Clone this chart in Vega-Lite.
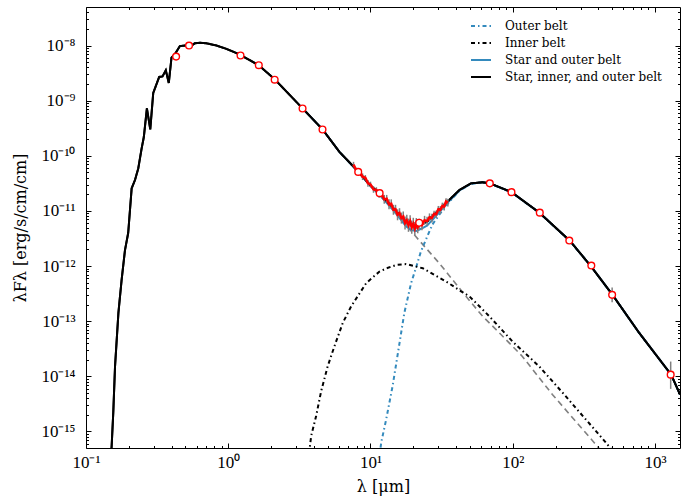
{
  "$schema": "https://vega.github.io/schema/vega-lite/v6.json",
  "width": 594,
  "height": 441,
  "autosize": {"type": "none"},
  "padding": {"left": 86, "top": 7, "right": 1, "bottom": 54},
  "background": "white",
  "config": {
    "view": {"stroke": "black", "strokeWidth": 1},
    "axis": {"labelColor": "black", "tickColor": "black", "titleColor": "black", "grid": false, "domain": false, "labelFont": "Liberation Serif", "labelFontSize": 17, "titleFont": "DejaVu Serif", "titleFontWeight": "normal", "titleFontSize": 16},
    "legend": {"orient": "none", "legendX": 384, "legendY": 8, "symbolType": "stroke", "symbolSize": 400, "symbolStrokeWidth": 2, "labelFont": "DejaVu Serif", "labelFontSize": 12, "labelLimit": 400, "labelColor": "black", "labelOffset": 13, "rowPadding": -2, "padding": 0}
  },
  "datasets": {
    "models": [
      {"s": "Outer belt", "x": 11.5, "y": 3.16e-16},
      {"s": "Outer belt", "x": 11.9, "y": 6.31e-16},
      {"s": "Outer belt", "x": 12.9, "y": 1.66e-15},
      {"s": "Outer belt", "x": 14.3, "y": 6.61e-15},
      {"s": "Outer belt", "x": 15.6, "y": 2.66e-14},
      {"s": "Outer belt", "x": 17.3, "y": 1.41e-13},
      {"s": "Outer belt", "x": 19.3, "y": 4.9e-13},
      {"s": "Outer belt", "x": 20.9, "y": 9.33e-13},
      {"s": "Outer belt", "x": 22.6, "y": 1.82e-12},
      {"s": "Outer belt", "x": 25, "y": 3.39e-12},
      {"s": "Outer belt", "x": 27.3, "y": 5.7e-12},
      {"s": "Outer belt", "x": 30.5, "y": 8.6e-12},
      {"s": "Outer belt", "x": 35.8, "y": 1.46e-11},
      {"s": "Outer belt", "x": 42.2, "y": 2.32e-11},
      {"s": "Outer belt", "x": 50.9, "y": 3.11e-11},
      {"s": "Outer belt", "x": 61.4, "y": 3.28e-11},
      {"s": "Outer belt", "x": 69.2, "y": 3.13e-11},
      {"s": "Outer belt", "x": 98.1, "y": 2.17e-11},
      {"s": "Outer belt", "x": 153.6, "y": 9.25e-12},
      {"s": "Outer belt", "x": 252, "y": 2.86e-12},
      {"s": "Outer belt", "x": 354, "y": 9.95e-13},
      {"s": "Outer belt", "x": 502, "y": 3.0e-13},
      {"s": "Outer belt", "x": 773, "y": 6.15e-14},
      {"s": "Outer belt", "x": 1300, "y": 1.07e-14},
      {"s": "Outer belt", "x": 1500, "y": 4.66e-15},
      {"s": "Inner belt", "x": 3.7, "y": 3.98e-16},
      {"s": "Inner belt", "x": 3.83, "y": 8.32e-16},
      {"s": "Inner belt", "x": 4.15, "y": 1.905e-15},
      {"s": "Inner belt", "x": 4.5, "y": 5.37e-15},
      {"s": "Inner belt", "x": 5.0, "y": 1.51e-14},
      {"s": "Inner belt", "x": 5.58, "y": 3.51e-14},
      {"s": "Inner belt", "x": 6.39, "y": 9.33e-14},
      {"s": "Inner belt", "x": 7.32, "y": 1.86e-13},
      {"s": "Inner belt", "x": 9.33, "y": 4.9e-13},
      {"s": "Inner belt", "x": 11.57, "y": 7.94e-13},
      {"s": "Inner belt", "x": 13.3, "y": 9.33e-13},
      {"s": "Inner belt", "x": 15.2, "y": 1.047e-12},
      {"s": "Inner belt", "x": 17.8, "y": 1.084e-12},
      {"s": "Inner belt", "x": 23.3, "y": 9.12e-13},
      {"s": "Inner belt", "x": 34.0, "y": 5.25e-13},
      {"s": "Inner belt", "x": 43.4, "y": 3.47e-13},
      {"s": "Inner belt", "x": 49.6, "y": 2.82e-13},
      {"s": "Inner belt", "x": 68.4, "y": 1.23e-13},
      {"s": "Inner belt", "x": 99.8, "y": 4.27e-14},
      {"s": "Inner belt", "x": 153.6, "y": 1.51e-14},
      {"s": "Inner belt", "x": 230, "y": 4.68e-15},
      {"s": "Inner belt", "x": 451, "y": 6.31e-16},
      {"s": "Inner belt", "x": 520, "y": 3.98e-16},
      {"s": "Star and outer belt", "x": 3.33, "y": 7.24e-10},
      {"s": "Star and outer belt", "x": 4.6, "y": 3.02e-10},
      {"s": "Star and outer belt", "x": 6.05, "y": 1.175e-10},
      {"s": "Star and outer belt", "x": 8.24, "y": 5.01e-11},
      {"s": "Star and outer belt", "x": 10.0, "y": 2.82e-11},
      {"s": "Star and outer belt", "x": 11.57, "y": 1.95e-11},
      {"s": "Star and outer belt", "x": 14.5, "y": 1.023e-11},
      {"s": "Star and outer belt", "x": 17.8, "y": 5.25e-12},
      {"s": "Star and outer belt", "x": 19.5, "y": 4.47e-12},
      {"s": "Star and outer belt", "x": 20.9, "y": 4.32e-12},
      {"s": "Star and outer belt", "x": 22.1, "y": 4.57e-12},
      {"s": "Star and outer belt", "x": 25, "y": 5.4e-12},
      {"s": "Star and outer belt", "x": 27.3, "y": 6.92e-12},
      {"s": "Star and outer belt", "x": 30.5, "y": 9.55e-12},
      {"s": "Star and outer belt", "x": 35.8, "y": 1.51e-11},
      {"s": "Star and outer belt", "x": 42.2, "y": 2.34e-11},
      {"s": "Star and outer belt", "x": 50.9, "y": 3.14e-11},
      {"s": "Star and outer belt", "x": 61.4, "y": 3.3e-11},
      {"s": "Star and outer belt", "x": 69.2, "y": 3.15e-11},
      {"s": "Star and outer belt", "x": 98.1, "y": 2.18e-11},
      {"s": "Star and outer belt", "x": 153.6, "y": 9.3e-12},
      {"s": "Star and outer belt", "x": 252, "y": 2.87e-12},
      {"s": "Star and outer belt", "x": 354, "y": 1.0e-12},
      {"s": "Star and outer belt", "x": 502, "y": 3.02e-13},
      {"s": "Star and outer belt", "x": 773, "y": 6.17e-14},
      {"s": "Star and outer belt", "x": 1300, "y": 1.07e-14},
      {"s": "Star and outer belt", "x": 1500, "y": 4.68e-15},
      {"s": "Star, inner, and outer belt", "x": 0.150, "y": 3.55e-16},
      {"s": "Star, inner, and outer belt", "x": 0.1515, "y": 5.5e-16},
      {"s": "Star, inner, and outer belt", "x": 0.1555, "y": 2.19e-15},
      {"s": "Star, inner, and outer belt", "x": 0.160, "y": 1.51e-14},
      {"s": "Star, inner, and outer belt", "x": 0.169, "y": 1.41e-13},
      {"s": "Star, inner, and outer belt", "x": 0.178, "y": 5.62e-13},
      {"s": "Star, inner, and outer belt", "x": 0.188, "y": 1.95e-12},
      {"s": "Star, inner, and outer belt", "x": 0.198, "y": 3.98e-12},
      {"s": "Star, inner, and outer belt", "x": 0.2094, "y": 2.57e-11},
      {"s": "Star, inner, and outer belt", "x": 0.221, "y": 3.63e-11},
      {"s": "Star, inner, and outer belt", "x": 0.233, "y": 5.89e-11},
      {"s": "Star, inner, and outer belt", "x": 0.246, "y": 1.35e-10},
      {"s": "Star, inner, and outer belt", "x": 0.255, "y": 2.19e-10},
      {"s": "Star, inner, and outer belt", "x": 0.268, "y": 7.24e-10},
      {"s": "Star, inner, and outer belt", "x": 0.283, "y": 3.02e-10},
      {"s": "Star, inner, and outer belt", "x": 0.297, "y": 1.38e-9},
      {"s": "Star, inner, and outer belt", "x": 0.327, "y": 2.69e-9},
      {"s": "Star, inner, and outer belt", "x": 0.345, "y": 2.75e-9},
      {"s": "Star, inner, and outer belt", "x": 0.364, "y": 3.55e-9},
      {"s": "Star, inner, and outer belt", "x": 0.382, "y": 2.09e-9},
      {"s": "Star, inner, and outer belt", "x": 0.399, "y": 6.03e-9},
      {"s": "Star, inner, and outer belt", "x": 0.421, "y": 6.92e-9},
      {"s": "Star, inner, and outer belt", "x": 0.457, "y": 9.77e-9},
      {"s": "Star, inner, and outer belt", "x": 0.496, "y": 1.0e-8},
      {"s": "Star, inner, and outer belt", "x": 0.531, "y": 9.33e-9},
      {"s": "Star, inner, and outer belt", "x": 0.582, "y": 1.096e-8},
      {"s": "Star, inner, and outer belt", "x": 0.631, "y": 1.122e-8},
      {"s": "Star, inner, and outer belt", "x": 0.703, "y": 1.096e-8},
      {"s": "Star, inner, and outer belt", "x": 0.826, "y": 1.0e-8},
      {"s": "Star, inner, and outer belt", "x": 0.97, "y": 8.71e-9},
      {"s": "Star, inner, and outer belt", "x": 1.2, "y": 6.92e-9},
      {"s": "Star, inner, and outer belt", "x": 1.64, "y": 4.37e-9},
      {"s": "Star, inner, and outer belt", "x": 2.12, "y": 2.45e-9},
      {"s": "Star, inner, and outer belt", "x": 3.33, "y": 7.24e-10},
      {"s": "Star, inner, and outer belt", "x": 4.6, "y": 3.02e-10},
      {"s": "Star, inner, and outer belt", "x": 6.05, "y": 1.175e-10},
      {"s": "Star, inner, and outer belt", "x": 8.24, "y": 5.13e-11},
      {"s": "Star, inner, and outer belt", "x": 10.0, "y": 2.88e-11},
      {"s": "Star, inner, and outer belt", "x": 11.57, "y": 2.09e-11},
      {"s": "Star, inner, and outer belt", "x": 14.5, "y": 1.122e-11},
      {"s": "Star, inner, and outer belt", "x": 17.8, "y": 6.38e-12},
      {"s": "Star, inner, and outer belt", "x": 20.9, "y": 5.37e-12},
      {"s": "Star, inner, and outer belt", "x": 22.1, "y": 5.56e-12},
      {"s": "Star, inner, and outer belt", "x": 25, "y": 6.4e-12},
      {"s": "Star, inner, and outer belt", "x": 27.3, "y": 8.13e-12},
      {"s": "Star, inner, and outer belt", "x": 30.5, "y": 1.047e-11},
      {"s": "Star, inner, and outer belt", "x": 35.8, "y": 1.585e-11},
      {"s": "Star, inner, and outer belt", "x": 42.2, "y": 2.4e-11},
      {"s": "Star, inner, and outer belt", "x": 50.9, "y": 3.16e-11},
      {"s": "Star, inner, and outer belt", "x": 61.4, "y": 3.31e-11},
      {"s": "Star, inner, and outer belt", "x": 69.2, "y": 3.16e-11},
      {"s": "Star, inner, and outer belt", "x": 98.1, "y": 2.19e-11},
      {"s": "Star, inner, and outer belt", "x": 153.6, "y": 9.33e-12},
      {"s": "Star, inner, and outer belt", "x": 252, "y": 2.88e-12},
      {"s": "Star, inner, and outer belt", "x": 354, "y": 1.0e-12},
      {"s": "Star, inner, and outer belt", "x": 502, "y": 3.02e-13},
      {"s": "Star, inner, and outer belt", "x": 773, "y": 6.17e-14},
      {"s": "Star, inner, and outer belt", "x": 1300, "y": 1.07e-14},
      {"s": "Star, inner, and outer belt", "x": 1500, "y": 4.68e-15}
    ],
    "star": [
      {"x": 4.6, "y": 3.02e-10},
      {"x": 6.05, "y": 1.175e-10},
      {"x": 8.24, "y": 5.01e-11},
      {"x": 11.57, "y": 1.95e-11},
      {"x": 14.5, "y": 1.023e-11},
      {"x": 20.9, "y": 3.39e-12},
      {"x": 30.5, "y": 1.12e-12},
      {"x": 46.9, "y": 2.82e-13},
      {"x": 61.4, "y": 1.23e-13},
      {"x": 80.4, "y": 6.17e-14},
      {"x": 117, "y": 2.29e-14},
      {"x": 190, "y": 4.68e-15},
      {"x": 373, "y": 6.31e-16},
      {"x": 450, "y": 3.55e-16}
    ],
    "spec": [
      {"x": 7.6, "y": 6.92e-11, "lo": 6.17e-11, "hi": 7.76e-11},
      {"x": 8.0, "y": 5.25e-11, "lo": 4.57e-11, "hi": 6.03e-11},
      {"x": 8.4, "y": 5.13e-11, "lo": 4.68e-11, "hi": 5.62e-11},
      {"x": 8.8, "y": 4.17e-11, "lo": 3.63e-11, "hi": 4.79e-11},
      {"x": 9.2, "y": 3.98e-11, "lo": 3.55e-11, "hi": 4.47e-11},
      {"x": 9.6, "y": 3.16e-11, "lo": 2.75e-11, "hi": 3.63e-11},
      {"x": 10.0, "y": 3.02e-11, "lo": 2.69e-11, "hi": 3.39e-11},
      {"x": 10.5, "y": 2.45e-11, "lo": 2.13e-11, "hi": 2.81e-11},
      {"x": 11.0, "y": 2.4e-11, "lo": 2.14e-11, "hi": 2.69e-11},
      {"x": 11.5, "y": 2.04e-11, "lo": 1.74e-11, "hi": 2.4e-11},
      {"x": 12.0, "y": 2.0e-11, "lo": 1.74e-11, "hi": 2.3e-11},
      {"x": 12.5, "y": 1.62e-11, "lo": 1.35e-11, "hi": 1.95e-11},
      {"x": 13.0, "y": 1.66e-11, "lo": 1.41e-11, "hi": 1.95e-11},
      {"x": 13.5, "y": 1.32e-11, "lo": 1.07e-11, "hi": 1.62e-11},
      {"x": 14.0, "y": 1.35e-11, "lo": 1.12e-11, "hi": 1.62e-11},
      {"x": 14.5, "y": 1.047e-11, "lo": 8.51e-12, "hi": 1.29e-11},
      {"x": 15.0, "y": 1.07e-11, "lo": 8.9e-12, "hi": 1.29e-11},
      {"x": 15.5, "y": 8.51e-12, "lo": 6.76e-12, "hi": 1.07e-11},
      {"x": 16.0, "y": 9.12e-12, "lo": 7.41e-12, "hi": 1.12e-11},
      {"x": 16.5, "y": 7.41e-12, "lo": 5.88e-12, "hi": 9.33e-12},
      {"x": 17.0, "y": 7.94e-12, "lo": 6.46e-12, "hi": 9.77e-12},
      {"x": 17.5, "y": 6.03e-12, "lo": 4.58e-12, "hi": 7.95e-12},
      {"x": 18.0, "y": 6.76e-12, "lo": 5.37e-12, "hi": 8.51e-12},
      {"x": 18.5, "y": 5.5e-12, "lo": 4.17e-12, "hi": 7.25e-12},
      {"x": 19.0, "y": 6.46e-12, "lo": 5.01e-12, "hi": 8.32e-12},
      {"x": 19.5, "y": 5.07e-12, "lo": 3.85e-12, "hi": 6.68e-12},
      {"x": 20.0, "y": 5.82e-12, "lo": 4.52e-12, "hi": 7.5e-12},
      {"x": 20.5, "y": 4.79e-12, "lo": 3.64e-12, "hi": 6.31e-12},
      {"x": 21.0, "y": 5.89e-12, "lo": 4.68e-12, "hi": 7.42e-12},
      {"x": 21.5, "y": 5.07e-12, "lo": 3.93e-12, "hi": 6.53e-12},
      {"x": 22.0, "y": 5.75e-12, "lo": 4.57e-12, "hi": 7.24e-12},
      {"x": 23, "y": 5.5e-12, "lo": 4.47e-12, "hi": 6.77e-12},
      {"x": 24, "y": 6.76e-12, "lo": 5.62e-12, "hi": 8.13e-12},
      {"x": 25, "y": 6.53e-12, "lo": 5.43e-12, "hi": 7.85e-12},
      {"x": 26, "y": 7.67e-12, "lo": 6.53e-12, "hi": 9.01e-12},
      {"x": 27, "y": 7.41e-12, "lo": 6.17e-12, "hi": 8.91e-12},
      {"x": 28, "y": 8.81e-12, "lo": 7.67e-12, "hi": 1.01e-11},
      {"x": 29, "y": 8.71e-12, "lo": 7.41e-12, "hi": 1.02e-11},
      {"x": 30, "y": 1.07e-11, "lo": 9.32e-12, "hi": 1.23e-11},
      {"x": 31, "y": 1.047e-11, "lo": 8.91e-12, "hi": 1.23e-11},
      {"x": 32, "y": 1.23e-11, "lo": 1.07e-11, "hi": 1.41e-11},
      {"x": 33, "y": 1.2e-11, "lo": 1.02e-11, "hi": 1.41e-11},
      {"x": 34, "y": 1.48e-11, "lo": 1.29e-11, "hi": 1.7e-11},
      {"x": 35, "y": 1.41e-11, "lo": 1.2e-11, "hi": 1.66e-11}
    ],
    "phot": [
      {"x": 0.43, "y": 6.3e-9},
      {"x": 0.53, "y": 1.0e-8},
      {"x": 1.22, "y": 6.6e-9},
      {"x": 1.64, "y": 4.4e-9},
      {"x": 2.12, "y": 2.4e-9},
      {"x": 3.33, "y": 7.2e-10},
      {"x": 4.6, "y": 3.0e-10},
      {"x": 8.2, "y": 5.1e-11},
      {"x": 11.6, "y": 2.1e-11},
      {"x": 22, "y": 6.1e-12},
      {"x": 69, "y": 3.16e-11},
      {"x": 98, "y": 2.19e-11},
      {"x": 155, "y": 9.3e-12},
      {"x": 250, "y": 2.9e-12},
      {"x": 357, "y": 1.02e-12},
      {"x": 500, "y": 3.0e-13},
      {"x": 1290, "y": 1.07e-14}
    ],
    "photerr": [
      {"x": 357, "lo": 8.9e-13, "hi": 1.15e-12},
      {"x": 500, "lo": 2.2e-13, "hi": 4.1e-13},
      {"x": 1290, "lo": 5.9e-15, "hi": 1.85e-14}
    ]
  },
  "layer": [
    {
      "data": {"name": "star"},
      "mark": {"type": "line", "color": "#808080", "strokeWidth": 1.6, "strokeDash": [6, 4], "clip": true},
      "encoding": {
        "x": {"field": "x", "type": "quantitative", "scale": {"type": "log", "domain": [0.1, 1500], "nice": false},
          "axis": {"orient": "bottom", "values": [0.1, 1, 10, 100, 1000], "ticks": false, "labelPadding": 6, "labelFlush": false, "labelOverlap": false,
            "labelExpr": "['10⁻¹','10⁰','10¹','10²','10³'][round(log(datum.value)/LN10)+1]", "title": "λ [μm]", "titlePadding": 8}},
        "y": {"field": "y", "type": "quantitative", "scale": {"type": "log", "domain": [5e-16, 5e-8], "nice": false},
          "axis": {"orient": "left", "values": [1e-15, 1e-14, 1e-13, 1e-12, 1e-11, 1e-10, 1e-9, 1e-8], "ticks": false, "labelPadding": 11, "labelFlush": false, "labelOverlap": false,
            "labelExpr": "['10⁻¹⁵','10⁻¹⁴','10⁻¹³','10⁻¹²','10⁻¹¹','10⁻¹⁰','10⁻⁹','10⁻⁸'][round(log(datum.value)/LN10)+15]", "title": "λFλ [erg/s/cm/cm]", "titlePadding": 12}}
      }
    },
    {
      "data": {"name": "models"},
      "mark": {"type": "line", "strokeWidth": 2, "clip": true},
      "encoding": {
        "x": {"field": "x", "type": "quantitative", "scale": {"type": "log", "domain": [0.1, 1500], "nice": false},
          "axis": {"orient": "bottom", "values": [0.1, 1, 10, 100, 1000], "labels": false, "ticks": true, "tickSize": -5, "title": null, "zindex": 1}},
        "y": {"field": "y", "type": "quantitative", "scale": {"type": "log", "domain": [5e-16, 5e-8], "nice": false},
          "axis": {"orient": "left", "values": [1e-15, 1e-14, 1e-13, 1e-12, 1e-11, 1e-10, 1e-9, 1e-8], "labels": false, "ticks": true, "tickSize": -5, "title": null, "zindex": 1}},
        "color": {"field": "s", "type": "nominal", "title": null,
          "scale": {"domain": ["Outer belt", "Inner belt", "Star and outer belt", "Star, inner, and outer belt"], "range": ["#348ABD", "black", "#348ABD", "black"]}},
        "strokeDash": {"field": "s", "type": "nominal", "title": null,
          "scale": {"domain": ["Outer belt", "Inner belt", "Star and outer belt", "Star, inner, and outer belt"], "range": [[4, 3, 1.5, 3], [4, 3, 1.5, 3], [1, 0], [1, 0]]}}
      }
    },
    {
      "data": {"name": "models"},
      "transform": [{"filter": "datum.s == 'Star, inner, and outer belt'"}],
      "mark": {"type": "line", "strokeWidth": 2, "color": "black", "clip": true},
      "encoding": {
        "x": {"field": "x", "type": "quantitative", "scale": {"type": "log", "domain": [0.1, 1500], "nice": false},
          "axis": {"orient": "bottom", "values": [0.2, 0.3, 0.4, 0.5, 0.6, 0.7, 0.8, 0.9, 2, 3, 4, 5, 6, 7, 8, 9, 20, 30, 40, 50, 60, 70, 80, 90, 200, 300, 400, 500, 600, 700, 800, 900], "labels": false, "ticks": true, "tickSize": -2.5, "title": null, "zindex": 1}},
        "y": {"field": "y", "type": "quantitative", "scale": {"type": "log", "domain": [5e-16, 5e-8], "nice": false},
          "axis": {"orient": "left", "values": [6e-16, 7e-16, 8e-16, 9e-16, 2e-15, 3e-15, 4e-15, 5e-15, 6e-15, 7e-15, 8e-15, 9e-15, 2e-14, 3e-14, 4e-14, 5e-14, 6e-14, 7e-14, 8e-14, 9e-14, 2e-13, 3e-13, 4e-13, 5e-13, 6e-13, 7e-13, 8e-13, 9e-13, 2e-12, 3e-12, 4e-12, 5e-12, 6e-12, 7e-12, 8e-12, 9e-12, 2e-11, 3e-11, 4e-11, 5e-11, 6e-11, 7e-11, 8e-11, 9e-11, 2e-10, 3e-10, 4e-10, 5e-10, 6e-10, 7e-10, 8e-10, 9e-10, 2e-9, 3e-9, 4e-9, 5e-9, 6e-9, 7e-9, 8e-9, 9e-9, 2e-8, 3e-8, 4e-8], "labels": false, "ticks": true, "tickSize": -2.5, "title": null, "zindex": 1}}
      }
    },
    {
      "data": {"name": "spec"},
      "mark": {"type": "rule", "color": "#808080", "strokeWidth": 1.5, "clip": true},
      "encoding": {
        "x": {"field": "x", "type": "quantitative", "scale": {"type": "log", "domain": [0.1, 1500], "nice": false},
          "axis": {"orient": "top", "values": [0.1, 1, 10, 100, 1000], "labels": false, "ticks": true, "tickSize": -5, "title": null, "zindex": 1}},
        "y": {"field": "lo", "type": "quantitative", "scale": {"type": "log", "domain": [5e-16, 5e-8], "nice": false},
          "axis": {"orient": "right", "values": [1e-15, 1e-14, 1e-13, 1e-12, 1e-11, 1e-10, 1e-9, 1e-8], "labels": false, "ticks": true, "tickSize": -5, "title": null, "zindex": 1}},
        "y2": {"field": "hi"}
      }
    },
    {
      "data": {"name": "spec"},
      "mark": {"type": "line", "color": "red", "strokeWidth": 2.5, "clip": true},
      "encoding": {
        "x": {"field": "x", "type": "quantitative", "scale": {"type": "log", "domain": [0.1, 1500], "nice": false},
          "axis": {"orient": "top", "values": [0.2, 0.3, 0.4, 0.5, 0.6, 0.7, 0.8, 0.9, 2, 3, 4, 5, 6, 7, 8, 9, 20, 30, 40, 50, 60, 70, 80, 90, 200, 300, 400, 500, 600, 700, 800, 900], "labels": false, "ticks": true, "tickSize": -2.5, "title": null, "zindex": 1}},
        "y": {"field": "y", "type": "quantitative", "scale": {"type": "log", "domain": [5e-16, 5e-8], "nice": false},
          "axis": {"orient": "right", "values": [6e-16, 7e-16, 8e-16, 9e-16, 2e-15, 3e-15, 4e-15, 5e-15, 6e-15, 7e-15, 8e-15, 9e-15, 2e-14, 3e-14, 4e-14, 5e-14, 6e-14, 7e-14, 8e-14, 9e-14, 2e-13, 3e-13, 4e-13, 5e-13, 6e-13, 7e-13, 8e-13, 9e-13, 2e-12, 3e-12, 4e-12, 5e-12, 6e-12, 7e-12, 8e-12, 9e-12, 2e-11, 3e-11, 4e-11, 5e-11, 6e-11, 7e-11, 8e-11, 9e-11, 2e-10, 3e-10, 4e-10, 5e-10, 6e-10, 7e-10, 8e-10, 9e-10, 2e-9, 3e-9, 4e-9, 5e-9, 6e-9, 7e-9, 8e-9, 9e-9, 2e-8, 3e-8, 4e-8], "labels": false, "ticks": true, "tickSize": -2.5, "title": null, "zindex": 1}}
      }
    },
    {
      "data": {"name": "photerr"},
      "mark": {"type": "rule", "color": "#808080", "strokeWidth": 1.5, "clip": true},
      "encoding": {
        "x": {"field": "x", "type": "quantitative", "scale": {"type": "log", "domain": [0.1, 1500], "nice": false}, "axis": null},
        "y": {"field": "lo", "type": "quantitative", "scale": {"type": "log", "domain": [5e-16, 5e-8], "nice": false}, "axis": null},
        "y2": {"field": "hi"}
      }
    },
    {
      "data": {"name": "phot"},
      "mark": {"type": "point", "shape": "circle", "filled": true, "fill": "white", "stroke": "red", "strokeWidth": 1.4, "size": 45, "opacity": 1, "clip": true},
      "encoding": {
        "x": {"field": "x", "type": "quantitative", "scale": {"type": "log", "domain": [0.1, 1500], "nice": false}, "axis": null},
        "y": {"field": "y", "type": "quantitative", "scale": {"type": "log", "domain": [5e-16, 5e-8], "nice": false}, "axis": null}
      }
    }
  ],
  "resolve": {"axis": {"x": "independent", "y": "independent"}}
}
